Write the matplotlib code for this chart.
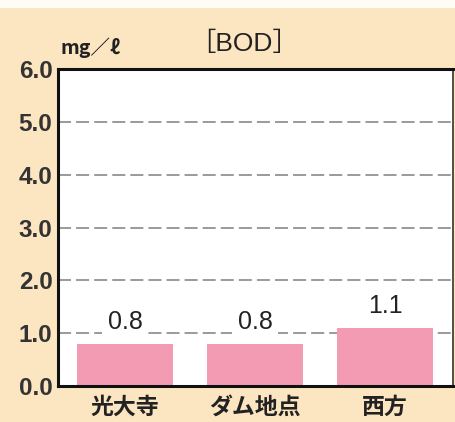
import matplotlib.pyplot as plt
from matplotlib.patches import Rectangle

# data
sites = ["光大寺", "ダム地点", "西方"]
bod = [0.8, 0.8, 1.1]
value_labels = ["0.8", "0.8", "1.1"]
yticks = [0.0, 1.0, 2.0, 3.0, 4.0, 5.0, 6.0]
ytick_labels = ["0.0", "1.0", "2.0", "3.0", "4.0", "5.0", "6.0"]

bg = "#FCE6C2"
pink = "#F29BB2"
txt = "#222222"

fig = plt.figure(figsize=(4.55, 4.22), dpi=100, facecolor=bg)
# white strip at the very top
fig.patches.append(Rectangle((0, 0.982), 1, 0.018, transform=fig.transFigure,
                             facecolor="#FFFBF5", edgecolor="none", zorder=0))

ax = fig.add_axes([0.1275, 0.0853, 0.868, 0.7512])
ax.set_facecolor("white")

x = list(range(len(sites)))
ax.bar(x, bod, width=0.74, color=pink, zorder=2)

for xi, v, lab in zip(x, bod, value_labels):
    ax.text(xi, v + 0.42, lab, ha="center", va="center", fontsize=18,
            family="Liberation Sans", color=txt, zorder=3,
            bbox=dict(facecolor="white", edgecolor="none", pad=4))

for t in yticks[1:-1]:
    ax.axhline(t, color="#9a9a9a", lw=1.4, ls=(0, (6.7, 2.6)), zorder=1)

ax.set_xlim(-0.515, 2.523)
ax.set_ylim(0, 6)
ax.set_yticks(yticks)
ax.set_yticklabels(ytick_labels, fontsize=17.5, fontweight="bold",
                   family="Liberation Sans", color="#333333")
ax.set_xticks(x)
ax.set_xticklabels(sites, fontsize=16.5, fontweight="bold", color=txt,
                   family=["Noto Sans CJK JP", "DejaVu Sans"])
ax.tick_params(axis="both", length=0)
ax.tick_params(axis="y", pad=4)
ax.tick_params(axis="x", pad=7)

for side in ["left", "bottom", "top"]:
    ax.spines[side].set_linewidth(2.2)
    ax.spines[side].set_color("#111111")
ax.spines["right"].set_linewidth(1.2)
ax.spines["right"].set_color("#333333")

fig.text(0.537, 0.895, "［BOD］", ha="center", va="center", fontsize=19,
         color=txt, family=["Liberation Sans", "Noto Sans CJK JP"])
fig.text(0.132, 0.886, "mg／ℓ", ha="left", va="center", fontsize=14,
         fontweight="bold", color=txt,
         family=["Noto Sans CJK JP", "DejaVu Sans"])

fig.savefig("out.png", dpi=100, facecolor=bg)
